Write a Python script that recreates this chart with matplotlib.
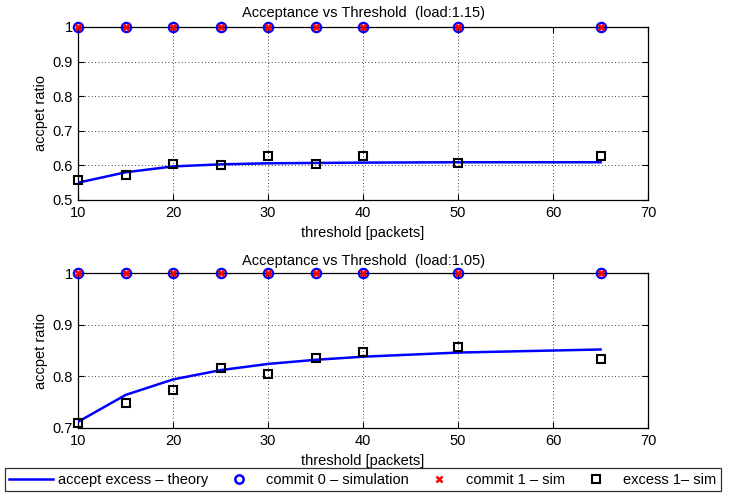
import matplotlib
matplotlib.use("Agg")
import matplotlib.pyplot as plt
from matplotlib.lines import Line2D

plt.rcParams['font.family'] = ['Liberation Sans', 'DejaVu Sans']
plt.rcParams['font.size'] = 10.5

thresholds = [10, 15, 20, 25, 30, 35, 40, 50, 65]

top_theory = [0.550, 0.580, 0.597, 0.603, 0.606, 0.607, 0.608, 0.609, 0.609]
top_commit0 = [1, 1, 1, 1, 1, 1, 1, 1, 1]
top_commit1 = [1, 1, 1, 1, 1, 1, 1, 1, 1]
top_excess = [0.557, 0.572, 0.605, 0.602, 0.627, 0.605, 0.628, 0.607, 0.628]

bot_theory = [0.712, 0.764, 0.794, 0.812, 0.824, 0.832, 0.838, 0.846, 0.852]
bot_commit0 = [1, 1, 1, 1, 1, 1, 1, 1, 1]
bot_commit1 = [1, 1, 1, 1, 1, 1, 1, 1, 1]
bot_excess = [0.709, 0.748, 0.773, 0.816, 0.805, 0.835, 0.848, 0.856, 0.833]

titles = ["Acceptance vs Threshold  (load:1.15)", "Acceptance vs Threshold  (load:1.05)"]
xticks = [10, 20, 30, 40, 50, 60, 70]
top_yticks = [0.5, 0.6, 0.7, 0.8, 0.9, 1.0]
top_ylabels = ["0.5", "0.6", "0.7", "0.8", "0.9", "1"]
bot_yticks = [0.7, 0.8, 0.9, 1.0]
bot_ylabels = ["0.7", "0.8", "0.9", "1"]

fig = plt.figure(figsize=(7.44, 4.95), dpi=100)
ax1 = fig.add_axes([0.105, 0.596, 0.766, 0.3495])
ax2 = fig.add_axes([0.105, 0.1354, 0.766, 0.313])

def draw(ax, theory, c0, c1, ex, title, yt, yl, ylim, tpad):
    ax.plot(thresholds, theory, color='#0000ff', lw=1.8, zorder=3)
    ax.plot(thresholds, c0, 'o', mfc='none', mec='#0000ff', mew=1.8, ms=6.5, clip_on=False, zorder=4)
    ax.plot(thresholds, c1, 'x', color='#ff0000', mew=1.8, ms=4, clip_on=False, zorder=5)
    ax.plot(thresholds, ex, 's', mfc='none', mec='black', mew=1.5, ms=5.5, clip_on=False, zorder=4)
    ax.set_xlim(10, 70)
    ax.set_ylim(*ylim)
    ax.set_xticks(xticks)
    ax.set_yticks(yt)
    ax.set_yticklabels(yl)
    ax.grid(True, linestyle=(0, (1, 3)), color='black', lw=0.6)
    ax.tick_params(direction='in', top=True, right=True, length=4, labelsize=10.5, pad=4)
    ax.set_title(title, fontsize=10.5, pad=tpad)
    ax.set_xlabel("threshold [packets]", fontsize=10.5, labelpad=5)
    ax.set_ylabel("accpet ratio", fontsize=10.5, labelpad=3)
    for s in ax.spines.values():
        s.set_linewidth(0.9)

draw(ax1, top_theory, top_commit0, top_commit1, top_excess, titles[0], top_yticks, top_ylabels, (0.5, 1.0), 7)
draw(ax2, bot_theory, bot_commit0, bot_commit1, bot_excess, titles[1], bot_yticks, bot_ylabels, (0.7, 1.0), 6)

handles = [
    Line2D([], [], color='#0000ff', lw=1.8),
    Line2D([], [], marker='o', ls='none', mfc='none', mec='#0000ff', mew=1.8, ms=6),
    Line2D([], [], marker='x', ls='none', color='#ff0000', mew=1.8, ms=4),
    Line2D([], [], marker='s', ls='none', mfc='none', mec='black', mew=1.5, ms=5.5),
]
labels = ["accept excess \u2013 theory", "commit 0 \u2013 simulation", "commit 1 \u2013 sim", "excess 1\u2013 sim"]
leg = fig.legend(handles, labels, loc='lower left', bbox_to_anchor=(5 / 744, 0.008),
                 ncol=4, fontsize=10.5, frameon=True, fancybox=False,
                 edgecolor='black', borderpad=0.3, handlelength=3.0, columnspacing=0.6,
                 handletextpad=0.35, borderaxespad=0)
leg.get_frame().set_linewidth(0.9)

fig.savefig("out.png", dpi=100)
